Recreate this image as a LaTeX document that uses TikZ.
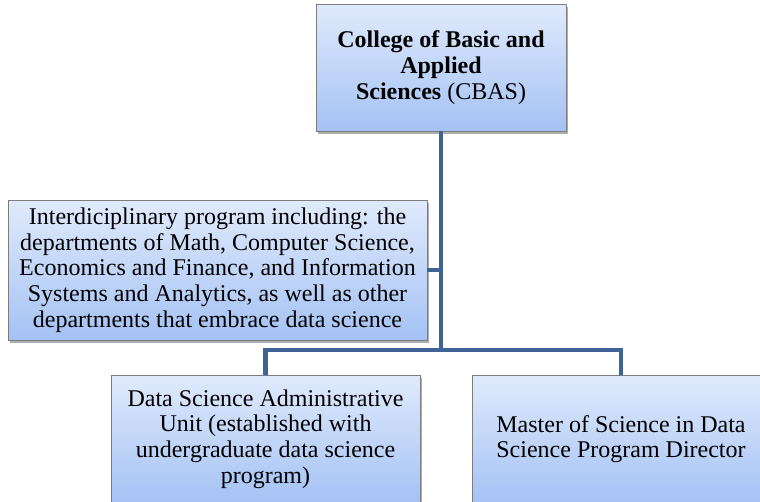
\documentclass[tikz,border=0pt]{standalone}
\usepackage{fontspec}
\setmainfont{Liberation Serif}
\usetikzlibrary{positioning, shadows}
\definecolor{cbasLine}{RGB}{62, 100, 150}
\definecolor{cbasTop}{RGB}{224, 234, 252}
\definecolor{cbasBottom}{RGB}{164, 194, 244}
\definecolor{cbasBorder}{RGB}{125, 125, 125}

\begin{document}
\begin{tikzpicture}[
      x=1pt, y=-1pt,
      unit/.style = {
        draw=cbasBorder, line width=0.8pt,
        top color=cbasTop, bottom color=cbasBottom,
        inner sep=0pt, align=center,
        font=\fontsize{24}{25.7}\selectfont,
        drop shadow={shadow xshift=2pt, shadow yshift=-3pt,
                     opacity=0.45, fill=black!70}
      },
      link/.style = {draw=cbasLine, line width=4.5pt},
    ]
    \clip (0,0) rectangle (760,501);
    %% -- Nodes ------------------------------------------------
    \node (cbas) [unit, minimum width=250pt, minimum height=127pt]
      at (441,67.5) {
      \textbf{College of Basic and}\\
      \textbf{Applied}\\
      \textbf{Sciences} (CBAS)
    };
    \node (inter) [unit, minimum width=419pt, minimum height=140pt]
      at (217.5,270) {
      Interdiciplinary program including: the\\
      departments of Math, Computer Science,\\
      Economics and Finance, and Information\\
      Systems and Analytics, as well as other\\
      departments that embrace data science
    };
    \node (dsau) [unit, minimum width=309pt, minimum height=128pt]
      at (265.5,439) {
      Data Science Administrative\\
      Unit (established with\\
      undergraduate data science\\
      program)
    };
    \node (msds) [unit, minimum width=298pt, minimum height=128pt]
      at (621,439) {
      Master of Science in Data\\
      Science Program Director
    };
    \coordinate (hub) at (441,350);
    %% -- Links ------------------------------------------------
    \draw[link] (cbas.south) -- (hub);
    \draw[link] (inter.east) -- (inter.east -| hub);
    \draw[link] (dsau.north) |- (hub) -| (msds.north);
  \end{tikzpicture}
\end{document}
